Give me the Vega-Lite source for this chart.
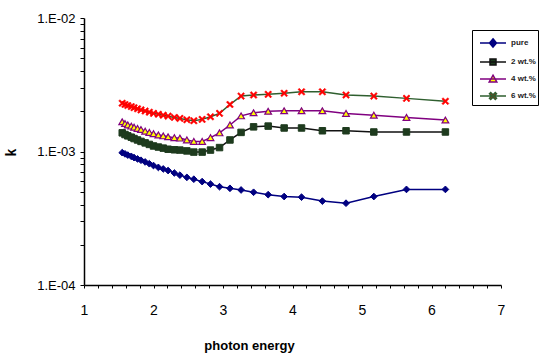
{
  "$schema": "https://vega.github.io/schema/vega-lite/v6.json",
  "width": 417,
  "height": 267,
  "autosize": "none",
  "padding": {"left": 84, "top": 18, "right": 38, "bottom": 73},
  "background": "white",
  "config": {
    "view": {"stroke": null},
    "font": "Liberation Sans",
    "axis": {"grid": false, "domainColor": "black", "tickColor": "black", "labelColor": "black", "titleColor": "black"}
  },
  "data": {
    "values": [
      {"E": 1.55, "s": "pure", "k": 0.00098}, {"E": 1.59, "s": "pure", "k": 0.00096}, {"E": 1.63, "s": "pure", "k": 0.00094},
      {"E": 1.68, "s": "pure", "k": 0.00092}, {"E": 1.72, "s": "pure", "k": 0.0009}, {"E": 1.77, "s": "pure", "k": 0.00088},
      {"E": 1.82, "s": "pure", "k": 0.00086}, {"E": 1.88, "s": "pure", "k": 0.000835}, {"E": 1.94, "s": "pure", "k": 0.00081},
      {"E": 2.0, "s": "pure", "k": 0.000785}, {"E": 2.07, "s": "pure", "k": 0.00076}, {"E": 2.14, "s": "pure", "k": 0.00074},
      {"E": 2.21, "s": "pure", "k": 0.00072}, {"E": 2.3, "s": "pure", "k": 0.00069}, {"E": 2.38, "s": "pure", "k": 0.000665},
      {"E": 2.48, "s": "pure", "k": 0.00064}, {"E": 2.58, "s": "pure", "k": 0.00062}, {"E": 2.7, "s": "pure", "k": 0.000595},
      {"E": 2.82, "s": "pure", "k": 0.00057}, {"E": 2.95, "s": "pure", "k": 0.000545}, {"E": 3.1, "s": "pure", "k": 0.00053},
      {"E": 3.26, "s": "pure", "k": 0.000515}, {"E": 3.44, "s": "pure", "k": 0.000495}, {"E": 3.65, "s": "pure", "k": 0.000475},
      {"E": 3.88, "s": "pure", "k": 0.00046}, {"E": 4.13, "s": "pure", "k": 0.000455}, {"E": 4.43, "s": "pure", "k": 0.000425},
      {"E": 4.77, "s": "pure", "k": 0.00041}, {"E": 5.17, "s": "pure", "k": 0.00046}, {"E": 5.64, "s": "pure", "k": 0.00052},
      {"E": 6.2, "s": "pure", "k": 0.00052},

      {"E": 1.55, "s": "2 wt.%", "k": 0.00138}, {"E": 1.59, "s": "2 wt.%", "k": 0.00134}, {"E": 1.63, "s": "2 wt.%", "k": 0.00131},
      {"E": 1.68, "s": "2 wt.%", "k": 0.00128}, {"E": 1.72, "s": "2 wt.%", "k": 0.00125}, {"E": 1.77, "s": "2 wt.%", "k": 0.00122},
      {"E": 1.82, "s": "2 wt.%", "k": 0.00119}, {"E": 1.88, "s": "2 wt.%", "k": 0.00116}, {"E": 1.94, "s": "2 wt.%", "k": 0.00113},
      {"E": 2.0, "s": "2 wt.%", "k": 0.0011}, {"E": 2.07, "s": "2 wt.%", "k": 0.00108}, {"E": 2.14, "s": "2 wt.%", "k": 0.00106},
      {"E": 2.21, "s": "2 wt.%", "k": 0.00104}, {"E": 2.3, "s": "2 wt.%", "k": 0.00103}, {"E": 2.38, "s": "2 wt.%", "k": 0.001025},
      {"E": 2.48, "s": "2 wt.%", "k": 0.00101}, {"E": 2.58, "s": "2 wt.%", "k": 0.00099}, {"E": 2.7, "s": "2 wt.%", "k": 0.00099},
      {"E": 2.82, "s": "2 wt.%", "k": 0.001025}, {"E": 2.95, "s": "2 wt.%", "k": 0.00107}, {"E": 3.1, "s": "2 wt.%", "k": 0.00122},
      {"E": 3.26, "s": "2 wt.%", "k": 0.00139}, {"E": 3.44, "s": "2 wt.%", "k": 0.00153}, {"E": 3.65, "s": "2 wt.%", "k": 0.00155},
      {"E": 3.88, "s": "2 wt.%", "k": 0.0015}, {"E": 4.13, "s": "2 wt.%", "k": 0.0015}, {"E": 4.43, "s": "2 wt.%", "k": 0.00143},
      {"E": 4.77, "s": "2 wt.%", "k": 0.00143}, {"E": 5.17, "s": "2 wt.%", "k": 0.0014}, {"E": 5.64, "s": "2 wt.%", "k": 0.0014},
      {"E": 6.2, "s": "2 wt.%", "k": 0.0014},

      {"E": 1.55, "s": "4 wt.%", "k": 0.00167}, {"E": 1.59, "s": "4 wt.%", "k": 0.00162}, {"E": 1.63, "s": "4 wt.%", "k": 0.00158},
      {"E": 1.68, "s": "4 wt.%", "k": 0.00155}, {"E": 1.72, "s": "4 wt.%", "k": 0.00152}, {"E": 1.77, "s": "4 wt.%", "k": 0.00149},
      {"E": 1.82, "s": "4 wt.%", "k": 0.00146}, {"E": 1.88, "s": "4 wt.%", "k": 0.00142}, {"E": 1.94, "s": "4 wt.%", "k": 0.00139},
      {"E": 2.0, "s": "4 wt.%", "k": 0.00136}, {"E": 2.07, "s": "4 wt.%", "k": 0.00133}, {"E": 2.14, "s": "4 wt.%", "k": 0.00131},
      {"E": 2.21, "s": "4 wt.%", "k": 0.00129}, {"E": 2.3, "s": "4 wt.%", "k": 0.00127}, {"E": 2.38, "s": "4 wt.%", "k": 0.00126},
      {"E": 2.48, "s": "4 wt.%", "k": 0.00122}, {"E": 2.58, "s": "4 wt.%", "k": 0.00119}, {"E": 2.7, "s": "4 wt.%", "k": 0.00119},
      {"E": 2.82, "s": "4 wt.%", "k": 0.00127}, {"E": 2.95, "s": "4 wt.%", "k": 0.00138}, {"E": 3.1, "s": "4 wt.%", "k": 0.00158},
      {"E": 3.26, "s": "4 wt.%", "k": 0.00185}, {"E": 3.44, "s": "4 wt.%", "k": 0.00195}, {"E": 3.65, "s": "4 wt.%", "k": 0.002},
      {"E": 3.88, "s": "4 wt.%", "k": 0.00202}, {"E": 4.13, "s": "4 wt.%", "k": 0.00202}, {"E": 4.43, "s": "4 wt.%", "k": 0.00202},
      {"E": 4.77, "s": "4 wt.%", "k": 0.00193}, {"E": 5.17, "s": "4 wt.%", "k": 0.00187}, {"E": 5.64, "s": "4 wt.%", "k": 0.0018},
      {"E": 6.2, "s": "4 wt.%", "k": 0.00172},

      {"E": 1.55, "s": "6 wt.%", "k": 0.0023}, {"E": 1.59, "s": "6 wt.%", "k": 0.00225}, {"E": 1.63, "s": "6 wt.%", "k": 0.00221},
      {"E": 1.68, "s": "6 wt.%", "k": 0.00217}, {"E": 1.72, "s": "6 wt.%", "k": 0.00213}, {"E": 1.77, "s": "6 wt.%", "k": 0.00209},
      {"E": 1.82, "s": "6 wt.%", "k": 0.00205}, {"E": 1.88, "s": "6 wt.%", "k": 0.00201}, {"E": 1.94, "s": "6 wt.%", "k": 0.00197},
      {"E": 2.0, "s": "6 wt.%", "k": 0.00193}, {"E": 2.07, "s": "6 wt.%", "k": 0.0019}, {"E": 2.14, "s": "6 wt.%", "k": 0.00187},
      {"E": 2.21, "s": "6 wt.%", "k": 0.00184}, {"E": 2.3, "s": "6 wt.%", "k": 0.0018}, {"E": 2.38, "s": "6 wt.%", "k": 0.00177},
      {"E": 2.48, "s": "6 wt.%", "k": 0.00173}, {"E": 2.58, "s": "6 wt.%", "k": 0.0017}, {"E": 2.7, "s": "6 wt.%", "k": 0.00174},
      {"E": 2.82, "s": "6 wt.%", "k": 0.00182}, {"E": 2.95, "s": "6 wt.%", "k": 0.00193}, {"E": 3.1, "s": "6 wt.%", "k": 0.00225},
      {"E": 3.26, "s": "6 wt.%", "k": 0.0026}, {"E": 3.44, "s": "6 wt.%", "k": 0.00265}, {"E": 3.65, "s": "6 wt.%", "k": 0.00268},
      {"E": 3.88, "s": "6 wt.%", "k": 0.00273}, {"E": 4.13, "s": "6 wt.%", "k": 0.0028}, {"E": 4.43, "s": "6 wt.%", "k": 0.0028},
      {"E": 4.77, "s": "6 wt.%", "k": 0.00265}, {"E": 5.17, "s": "6 wt.%", "k": 0.0026}, {"E": 5.64, "s": "6 wt.%", "k": 0.0025},
      {"E": 6.2, "s": "6 wt.%", "k": 0.00238}
    ]
  },
  "encoding": {
    "x": {
      "field": "E", "type": "quantitative",
      "scale": {"domain": [1, 7], "nice": false, "zero": false},
      "axis": {
        "title": "photon energy",
        "titleFontSize": 13, "titleFontWeight": "bold", "titleX": 165, "titleY": 54,
        "values": [1, 1.2, 1.4, 1.6, 1.8, 2, 2.2, 2.4, 2.6, 2.8, 3, 3.2, 3.4, 3.6, 3.8, 4, 4.2, 4.4, 4.6, 4.8, 5, 5.2, 5.4, 5.6, 5.8, 6, 6.2, 6.4, 6.6, 6.8, 7],
        "labelExpr": "abs(datum.value - round(datum.value)) < 0.01 ? format(datum.value, 'd') : ''",
        "labelFontSize": 14, "labelPadding": 15, "labelFlush": false, "labelOverlap": false,
        "tickSize": 3, "tickWidth": 1, "domainWidth": 1.5
      }
    },
    "y": {
      "field": "k", "type": "quantitative",
      "scale": {"type": "log", "domain": [0.0001, 0.01], "nice": false},
      "axis": {
        "title": "k",
        "titleFontSize": 14, "titleFontWeight": "bold", "titleX": -66, "titleY": 134, "titleAngle": -90,
        "values": [0.0001, 0.0002, 0.0003, 0.0004, 0.0005, 0.0006, 0.0007, 0.0008, 0.0009, 0.001, 0.002, 0.003, 0.004, 0.005, 0.006, 0.007, 0.008, 0.009, 0.01],
        "labelExpr": "datum.value == 0.01 ? '1.E-02' : datum.value == 0.001 ? '1.E-03' : datum.value == 0.0001 ? '1.E-04' : ''",
        "labelFontSize": 13, "labelPadding": 5, "labelFlush": false, "labelOverlap": false,
        "tickSize": 4, "tickWidth": 1, "domainWidth": 1.5
      }
    }
  },
  "layer": [
    {
      "mark": {"type": "line", "strokeWidth": 1.5},
      "encoding": {
        "color": {
          "field": "s", "type": "nominal",
          "scale": {"domain": ["pure", "2 wt.%", "4 wt.%", "6 wt.%"], "range": ["#000080", "#111111", "#800080", "#2f5f2f"]},
          "legend": {
            "title": null, "orient": "none", "legendX": 388, "legendY": 12,
            "strokeColor": "black", "padding": 2, "fillColor": "white",
            "symbolSize": 400, "symbolStrokeWidth": 1.5, "symbolOffset": 8,
            "labelOffset": 7, "labelFontSize": 8, "labelFontWeight": "bold", "labelColor": "#222",
            "rowPadding": 0
          }
        }
      }
    },
    {
      "transform": [{"filter": "datum.s === 'pure'"}],
      "mark": {"type": "point", "shape": "diamond", "filled": true, "fill": "#000080", "stroke": "#000080", "strokeWidth": 1, "size": 45, "opacity": 1}
    },
    {
      "transform": [{"filter": "datum.s === '2 wt.%'"}],
      "mark": {"type": "point", "shape": "square", "filled": true, "fill": "#1e3b1e", "stroke": "#1e3b1e", "strokeWidth": 1, "size": 42, "opacity": 1}
    },
    {
      "transform": [{"filter": "datum.s === '4 wt.%'"}],
      "mark": {"type": "point", "shape": "triangle-up", "filled": true, "fill": "#ffff00", "stroke": "#800080", "strokeWidth": 1.2, "size": 45, "opacity": 1}
    },
    {
      "transform": [{"filter": "datum.s === '6 wt.%'"}],
      "mark": {"type": "point", "shape": "M-1,-0.66L-0.66,-1L0,-0.34L0.66,-1L1,-0.66L0.34,0L1,0.66L0.66,1L0,0.34L-0.66,1L-1,0.66L-0.34,0Z", "filled": true, "fill": "#ff0000", "stroke": "#ff0000", "strokeWidth": 0.5, "size": 50, "opacity": 1}
    },
    {
      "transform": [{"filter": "datum.E > 100"}],
      "mark": {"type": "point", "filled": false, "strokeWidth": 1.5, "opacity": 1},
      "encoding": {
        "shape": {
          "field": "s", "type": "nominal", "legend": null,
          "scale": {"domain": ["pure", "2 wt.%", "4 wt.%", "6 wt.%"], "range": [
            "M-1.3,0L1.3,0M0,-0.42L0.35,0L0,0.42L-0.35,0Z",
            "M-1.3,0L1.3,0M-0.3,-0.3L0.3,-0.3L0.3,0.3L-0.3,0.3Z",
            "M-1.3,0L1.3,0M0,-0.38L0.38,0.3L-0.38,0.3Z",
            "M-1.3,0L1.3,0M-0.35,-0.23L-0.23,-0.35L0,-0.12L0.23,-0.35L0.35,-0.23L0.12,0L0.35,0.23L0.23,0.35L0,0.12L-0.23,0.35L-0.35,0.23L-0.12,0Z"
          ]}
        },
        "fill": {
          "field": "s", "type": "nominal", "legend": null,
          "scale": {"domain": ["pure", "2 wt.%", "4 wt.%", "6 wt.%"], "range": ["#000080", "#1e3b1e", "#ffff00", "#ff0000"]}
        },
        "stroke": {
          "field": "s", "type": "nominal", "legend": null,
          "scale": {"domain": ["pure", "2 wt.%", "4 wt.%", "6 wt.%"], "range": ["#000080", "#111111", "#800080", "#2f5f2f"]}
        },
        "size": {"value": 45}
      }
    }
  ]
}
